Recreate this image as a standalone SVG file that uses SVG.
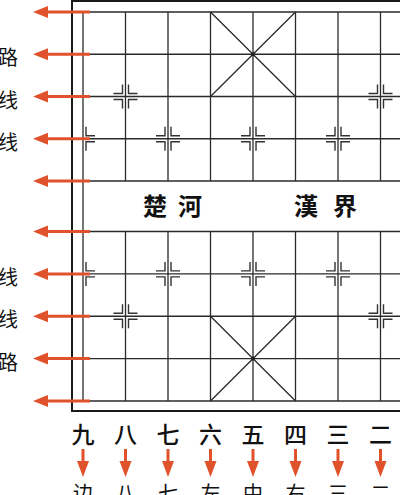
<svg xmlns="http://www.w3.org/2000/svg" width="400" height="495" viewBox="0 0 400 495">
<style>
.grid{stroke:#2b2b2b;stroke-width:1.3;fill:none}
.border{stroke:#1a1a1a;stroke-width:2;fill:none}
.mk{stroke:#333;stroke-width:1.4;fill:none}
.arr{stroke:#E0522C;stroke-width:3;fill:none}
.head{fill:#E0522C}
.lbl{font-family:"Noto Sans CJK SC","Noto Sans CJK TC",sans-serif;fill:#111}
.num{font-size:23px;font-weight:500;text-anchor:middle}
.side{font-size:20px;text-anchor:end}
.bot{font-size:20px;text-anchor:middle}
.river{font-size:24px;font-weight:bold;text-anchor:middle}
</style>
<defs>
<path id="h" d="M0,0 L15,-6 L15,6 Z" class="head"/>
<path id="v" d="M0,0 L-6,-16 L6,-16 Z" class="head"/>
</defs>
<rect width="400" height="495" fill="#fff"/>
<g id="board">
<rect class="border" x="72" y="1" width="362" height="410"/>
<g id="grid" class="grid">
<path d="M83,12H423M83,54.25H423M83,96.5H423M83,138.75H423M83,181H423M83,231.5H423M83,273.9H423M83,316.25H423M83,358.6H423M83,401H423"/>
<path d="M83,12V401M423,12V401"/>
<path d="M125.5,12V181M168,12V181M210.5,12V181M253,12V181M295.5,12V181M338,12V181M380.5,12V181"/>
<path d="M125.5,231.5V401M168,231.5V401M210.5,231.5V401M253,231.5V401M295.5,231.5V401M338,231.5V401M380.5,231.5V401"/>
</g>
<g id="palaces" class="grid">
<path d="M210.5,12L295.5,96.5M295.5,12L210.5,96.5"/>
<path d="M210.5,316.25L295.5,401M295.5,316.25L210.5,401"/>
<circle cx="253" cy="54.25" r="2" fill="#222" stroke="none"/>
<circle cx="253" cy="358.6" r="2" fill="#222" stroke="none"/>
</g>
<g id="markers" class="mk">
<path d="M113.5,93.5H122.5V84.5M137.5,93.5H128.5V84.5M113.5,99.5H122.5V108.5M137.5,99.5H128.5V108.5"/>
<path d="M368.5,93.5H377.5V84.5M392.5,93.5H383.5V84.5M368.5,99.5H377.5V108.5M392.5,99.5H383.5V108.5"/>
<path d="M95,135.75H86V126.75M95,141.75H86V150.75"/>
<path d="M156,135.75H165V126.75M180,135.75H171V126.75M156,141.75H165V150.75M180,141.75H171V150.75"/>
<path d="M241,135.75H250V126.75M265,135.75H256V126.75M241,141.75H250V150.75M265,141.75H256V150.75"/>
<path d="M326,135.75H335V126.75M350,135.75H341V126.75M326,141.75H335V150.75M350,141.75H341V150.75"/>
<path d="M95,270.9H86V261.9M95,276.9H86V285.9"/>
<path d="M156,270.9H165V261.9M180,270.9H171V261.9M156,276.9H165V285.9M180,276.9H171V285.9"/>
<path d="M241,270.9H250V261.9M265,270.9H256V261.9M241,276.9H250V285.9M265,276.9H256V285.9"/>
<path d="M326,270.9H335V261.9M350,270.9H341V261.9M326,276.9H335V285.9M350,276.9H341V285.9"/>
<path d="M113.5,313.25H122.5V304.25M137.5,313.25H128.5V304.25M113.5,319.25H122.5V328.25M137.5,319.25H128.5V328.25"/>
<path d="M368.5,313.25H377.5V304.25M392.5,313.25H383.5V304.25M368.5,319.25H377.5V328.25M392.5,319.25H383.5V328.25"/>
</g>
<g id="river" class="lbl river">
<text x="155" y="215">楚</text>
<text x="190" y="215">河</text>
<text x="306" y="215">漢</text>
<text x="345" y="215">界</text>
</g>
</g>
<g id="connectors">
<g class="arr">
<path d="M90,12H46M90,54.25H46M90,96.5H46M90,138.75H46M90,181H46M90,231.5H46M90,273.9H46M90,316.25H46M90,358.6H46M90,401H46"/>
<path d="M83,449V462M125.5,449V462M168,449V462M210.5,449V462M253,449V462M295.5,449V462M338,449V462M380.5,449V462"/>
</g>
<use href="#h" x="33" y="12"/><use href="#h" x="33" y="54.25"/><use href="#h" x="33" y="96.5"/><use href="#h" x="33" y="138.75"/><use href="#h" x="33" y="181"/>
<use href="#h" x="33" y="231.5"/><use href="#h" x="33" y="273.9"/><use href="#h" x="33" y="316.25"/><use href="#h" x="33" y="358.6"/><use href="#h" x="33" y="401"/>
<use href="#v" x="83" y="477"/><use href="#v" x="125.5" y="477"/><use href="#v" x="168" y="477"/><use href="#v" x="210.5" y="477"/>
<use href="#v" x="253" y="477"/><use href="#v" x="295.5" y="477"/><use href="#v" x="338" y="477"/><use href="#v" x="380.5" y="477"/>
</g>
<g id="side-labels" class="lbl side">
<text x="18" y="65">路</text>
<text x="18" y="107.5">线</text>
<text x="18" y="149.75">线</text>
<text x="18" y="284.9">线</text>
<text x="18" y="327.25">线</text>
<text x="18" y="369.6">路</text>
</g>
<g id="numbers" class="lbl num">
<text x="83" y="443">九</text>
<text x="125.5" y="443">八</text>
<text x="168" y="443">七</text>
<text x="210.5" y="443">六</text>
<text x="253" y="443">五</text>
<text x="295.5" y="443">四</text>
<text x="338" y="443">三</text>
<text x="380.5" y="443">二</text>
</g>
<g id="bottom-labels" class="lbl bot">
<text x="83" y="501">边</text>
<text x="125.5" y="501">八</text>
<text x="168" y="501">七</text>
<text x="210.5" y="501">左</text>
<text x="253" y="501">中</text>
<text x="295.5" y="501">右</text>
<text x="338" y="501">三</text>
<text x="380.5" y="501">二</text>
</g>
</svg>
